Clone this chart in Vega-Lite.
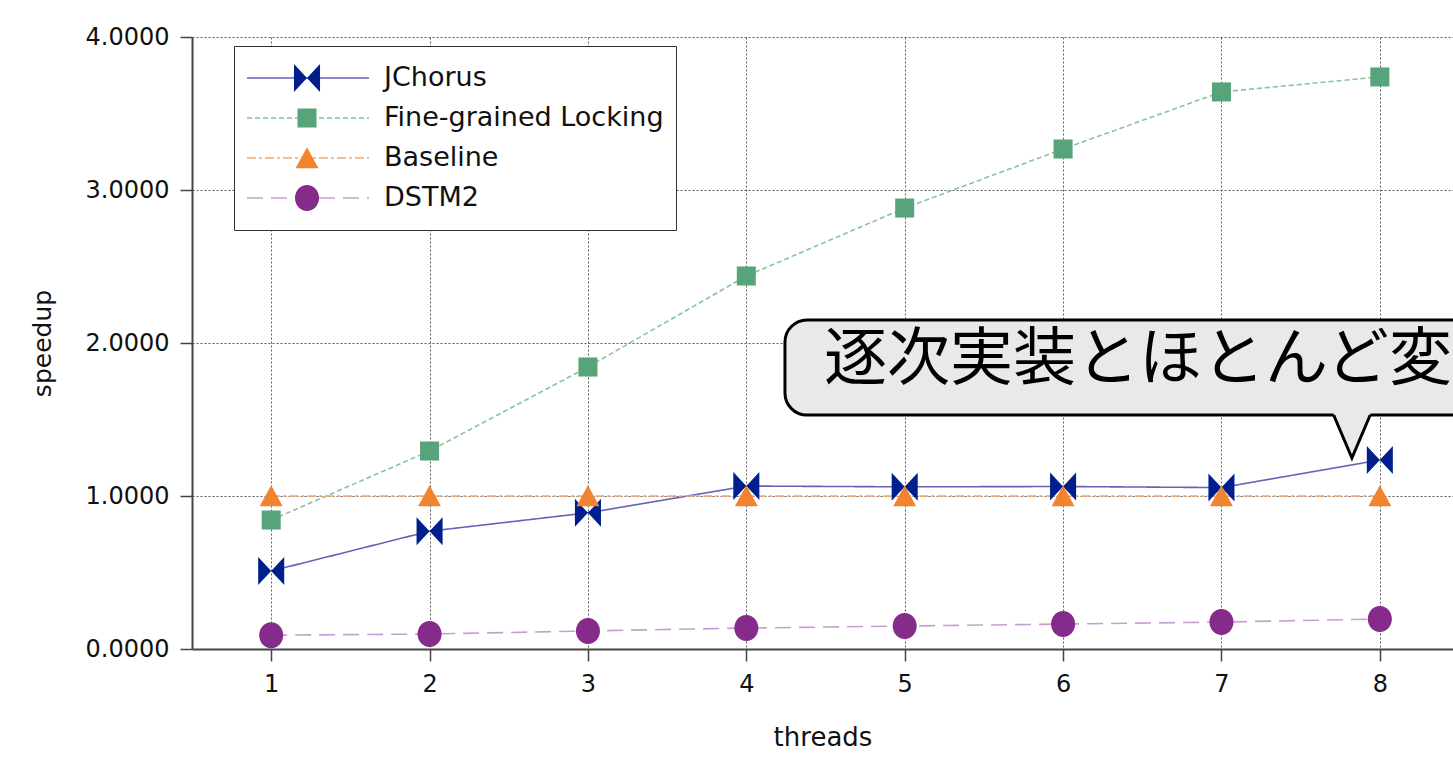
{
  "$schema": "https://vega.github.io/schema/vega-lite/v6.json",
  "width": 1261,
  "height": 612,
  "autosize": {"type": "none"},
  "padding": {"left": 192, "top": 37, "right": 0, "bottom": 114},
  "background": "white",
  "config": {
    "view": {"stroke": null},
    "font": "DejaVu Sans",
    "axis": {
      "gridColor": "#4a4a4a",
      "gridDash": [2, 2],
      "gridWidth": 1,
      "gridOpacity": 0.9,
      "domainColor": "#444444",
      "domainWidth": 2,
      "tickColor": "#444444",
      "tickWidth": 1.5,
      "tickSize": 12,
      "labelColor": "#111111",
      "labelFont": "DejaVu Sans",
      "labelFontSize": 24,
      "labelPadding": 11,
      "titleFont": "DejaVu Sans",
      "titleFontWeight": "normal",
      "titleColor": "#111111"
    }
  },
  "datasets": {
    "speedup": [
      {"threads": 1, "series": "JChorus", "order": 1, "speedup": 0.51},
      {"threads": 2, "series": "JChorus", "order": 1, "speedup": 0.77},
      {"threads": 3, "series": "JChorus", "order": 1, "speedup": 0.89},
      {"threads": 4, "series": "JChorus", "order": 1, "speedup": 1.065},
      {"threads": 5, "series": "JChorus", "order": 1, "speedup": 1.06},
      {"threads": 6, "series": "JChorus", "order": 1, "speedup": 1.062},
      {"threads": 7, "series": "JChorus", "order": 1, "speedup": 1.055},
      {"threads": 8, "series": "JChorus", "order": 1, "speedup": 1.235},
      {"threads": 1, "series": "Fine-grained Locking", "order": 2, "speedup": 0.843},
      {"threads": 2, "series": "Fine-grained Locking", "order": 2, "speedup": 1.294},
      {"threads": 3, "series": "Fine-grained Locking", "order": 2, "speedup": 1.843},
      {"threads": 4, "series": "Fine-grained Locking", "order": 2, "speedup": 2.438},
      {"threads": 5, "series": "Fine-grained Locking", "order": 2, "speedup": 2.882},
      {"threads": 6, "series": "Fine-grained Locking", "order": 2, "speedup": 3.268},
      {"threads": 7, "series": "Fine-grained Locking", "order": 2, "speedup": 3.641},
      {"threads": 8, "series": "Fine-grained Locking", "order": 2, "speedup": 3.739},
      {"threads": 1, "series": "Baseline", "order": 3, "speedup": 1.0},
      {"threads": 2, "series": "Baseline", "order": 3, "speedup": 1.0},
      {"threads": 3, "series": "Baseline", "order": 3, "speedup": 1.0},
      {"threads": 4, "series": "Baseline", "order": 3, "speedup": 1.0},
      {"threads": 5, "series": "Baseline", "order": 3, "speedup": 1.0},
      {"threads": 6, "series": "Baseline", "order": 3, "speedup": 1.0},
      {"threads": 7, "series": "Baseline", "order": 3, "speedup": 1.0},
      {"threads": 8, "series": "Baseline", "order": 3, "speedup": 1.0},
      {"threads": 1, "series": "DSTM2", "order": 4, "speedup": 0.09},
      {"threads": 2, "series": "DSTM2", "order": 4, "speedup": 0.098},
      {"threads": 3, "series": "DSTM2", "order": 4, "speedup": 0.118},
      {"threads": 4, "series": "DSTM2", "order": 4, "speedup": 0.137},
      {"threads": 5, "series": "DSTM2", "order": 4, "speedup": 0.15},
      {"threads": 6, "series": "DSTM2", "order": 4, "speedup": 0.163},
      {"threads": 7, "series": "DSTM2", "order": 4, "speedup": 0.176},
      {"threads": 8, "series": "DSTM2", "order": 4, "speedup": 0.196}
    ],
    "callout": [
      {"x": 4.244, "x2": 9.5, "y": 1.529, "y2": 2.15, "tx": 4.49, "ty": 1.89, "px": 7.817, "py": 1.389, "text": "逐次実装とほとんど変わらない"}
    ]
  },
  "layer": [
    {
      "data": {"name": "speedup"},
      "mark": {"type": "line", "strokeWidth": 1.6},
      "encoding": {
        "x": {
          "field": "threads", "type": "quantitative",
          "scale": {"domain": [0.5, 8.462], "nice": false, "zero": false},
          "axis": {"values": [1, 2, 3, 4, 5, 6, 7, 8], "format": "d", "title": "threads", "titleFontSize": 26, "titlePadding": 28, "grid": true}
        },
        "y": {
          "field": "speedup", "type": "quantitative",
          "scale": {"domain": [0, 4], "nice": false},
          "axis": {"values": [0, 1, 2, 3, 4], "format": ".4f", "title": "speedup", "titleFontSize": 25, "titlePadding": 30, "grid": true}
        },
        "color": {
          "field": "series", "type": "nominal",
          "scale": {
            "domain": ["JChorus", "Fine-grained Locking", "Baseline", "DSTM2"],
            "range": ["#6165b8", "#86c4a0", "#f6a66a", "#c99cd2"]
          },
          "legend": {
            "orient": "none", "legendX": 42, "legendY": 9, "title": null,
            "symbolType": "stroke", "symbolSize": 14884, "symbolStrokeWidth": 1.6,
            "clipHeight": 40, "rowPadding": 0, "padding": 12,
            "labelFont": "DejaVu Sans", "labelFontSize": 27, "labelColor": "#111111", "labelOffset": 14, "labelLimit": 400,
            "fillColor": "white", "strokeColor": "#333333"
          }
        },
        "strokeDash": {
          "field": "series", "type": "nominal",
          "scale": {
            "domain": ["JChorus", "Fine-grained Locking", "Baseline", "DSTM2"],
            "range": [[1, 0], [5, 3], [9, 3, 3, 3], [16, 8]]
          },
          "legend": {
            "orient": "none", "legendX": 42, "legendY": 9, "title": null,
            "symbolType": "stroke", "symbolSize": 14884, "symbolStrokeWidth": 1.6,
            "clipHeight": 40, "rowPadding": 0, "padding": 12,
            "labelFont": "DejaVu Sans", "labelFontSize": 27, "labelColor": "#111111", "labelOffset": 14, "labelLimit": 400,
            "fillColor": "white", "strokeColor": "#333333"
          }
        }
      }
    },
    {
      "data": {"name": "speedup"},
      "mark": {"type": "point", "filled": true, "size": 784, "opacity": 1, "strokeWidth": 0},
      "encoding": {
        "x": {"field": "threads", "type": "quantitative"},
        "y": {"field": "speedup", "type": "quantitative"},
        "fill": {
          "field": "series", "type": "nominal",
          "sort": {"field": "order", "op": "min"},
          "scale": {"range": ["#001f8d", "#57a47b", "#f2842f", "#852b89"]},
          "legend": {
            "orient": "none", "legendX": 89, "legendY": 9, "title": null,
            "symbolSize": 784, "symbolStrokeWidth": 0, "symbolOpacity": 1,
            "clipHeight": 40, "rowPadding": 0, "padding": 12,
            "labelFontSize": 27, "labelExpr": "''",
            "fillColor": "transparent", "strokeColor": "transparent", "zindex": 2
          }
        },
        "shape": {
          "field": "series", "type": "nominal",
          "sort": {"field": "order", "op": "min"},
          "scale": {
            "range": [
              "M-0.93,-1L0,0L-0.93,1Z M0.93,-1L0,0L0.93,1Z",
              "M-0.68,-0.68L0.68,-0.68L0.68,0.68L-0.68,0.68Z",
              "M0,-0.76L0.82,0.74L-0.82,0.74Z",
              "M0,-0.93A0.86,0.93,0,1,1,0,0.93A0.86,0.93,0,1,1,0,-0.93Z"
            ]
          },
          "legend": {
            "orient": "none", "legendX": 89, "legendY": 9, "title": null,
            "symbolSize": 784, "symbolStrokeWidth": 0, "symbolOpacity": 1,
            "clipHeight": 40, "rowPadding": 0, "padding": 12,
            "labelFontSize": 27, "labelExpr": "''",
            "fillColor": "transparent", "strokeColor": "transparent", "zindex": 2
          }
        }
      }
    },
    {
      "data": {"name": "callout"},
      "mark": {"type": "rect", "fill": "#e9e9e9", "stroke": "#000000", "strokeWidth": 3, "cornerRadius": 22, "clip": true},
      "encoding": {
        "x": {"field": "x", "type": "quantitative"},
        "x2": {"field": "x2"},
        "y": {"field": "y", "type": "quantitative"},
        "y2": {"field": "y2"}
      }
    },
    {
      "data": {"name": "callout"},
      "mark": {"type": "point", "filled": true, "fill": "#e9e9e9", "strokeWidth": 0, "opacity": 1, "size": 1849,
        "shape": "M-0.8,-1.2L-0.8,-1L0.05,1L0.9,-1L0.9,-1.2Z"},
      "encoding": {
        "x": {"field": "px", "type": "quantitative"},
        "y": {"field": "py", "type": "quantitative"}
      }
    },
    {
      "data": {"name": "callout"},
      "mark": {"type": "point", "filled": false, "fill": null, "stroke": "#000000", "strokeWidth": 3, "opacity": 1, "size": 1849,
        "strokeJoin": "miter", "shape": "M-0.8,-1L0.05,1L0.9,-1"},
      "encoding": {
        "x": {"field": "px", "type": "quantitative"},
        "y": {"field": "py", "type": "quantitative"}
      }
    },
    {
      "data": {"name": "callout"},
      "mark": {"type": "text", "align": "left", "baseline": "middle", "font": "Noto Sans CJK JP", "fontSize": 63, "color": "#000000"},
      "encoding": {
        "x": {"field": "tx", "type": "quantitative"},
        "y": {"field": "ty", "type": "quantitative"},
        "text": {"field": "text"}
      }
    }
  ]
}
